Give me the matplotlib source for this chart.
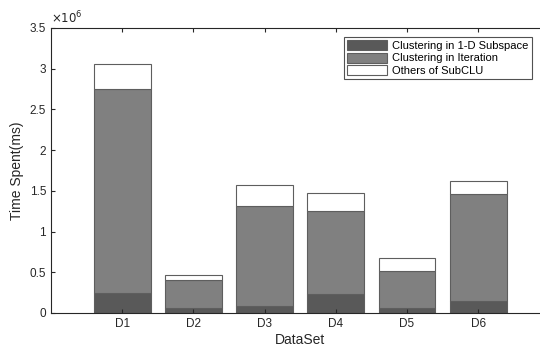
import numpy as np
import matplotlib
matplotlib.use("Agg")
import matplotlib.pyplot as plt

plt.rcParams["font.family"] = ["Liberation Sans", "DejaVu Sans"]

datasets = ["D1", "D2", "D3", "D4", "D5", "D6"]
subspace = [0.25e6, 0.06e6, 0.09e6, 0.23e6, 0.06e6, 0.15e6]
iteration_total = [2.75e6, 0.40e6, 1.31e6, 1.25e6, 0.52e6, 1.46e6]
overall = [3.06e6, 0.47e6, 1.57e6, 1.47e6, 0.68e6, 1.62e6]

sub = np.array(subspace)
itr = np.array(iteration_total) - sub
oth = np.array(overall) - np.array(iteration_total)

fig = plt.figure(figsize=(5.4, 3.48), dpi=100)
ax = fig.add_axes([0.0944, 0.1006, 0.923, 0.819])

x = np.arange(1, len(datasets) + 1)
w = 0.8
edge = "#5e5e5e"
ax.bar(x, sub, w, color="#595959", edgecolor=edge, linewidth=0.8, label="Clustering in 1-D Subspace")
ax.bar(x, itr, w, bottom=sub, color="#808080", edgecolor=edge, linewidth=0.8, label="Clustering in Iteration")
ax.bar(x, oth, w, bottom=sub + itr, color="white", edgecolor=edge, linewidth=0.8, label="Others of SubCLU")

ax.set_xlim(0, 7)
ax.set_ylim(0, 3.5e6)
ax.set_xticks(x)
ax.set_xticklabels(datasets)
ax.set_yticks(np.arange(0, 3.51e6, 0.5e6))
ax.set_yticklabels(["0", "0.5", "1", "1.5", "2", "2.5", "3", "3.5"])
ax.text(0.0, 1.005, r"$\times10^{6}$", transform=ax.transAxes, fontsize=8.5, color="#262626", va="bottom")

ax.tick_params(direction="in", top=True, right=True, labelsize=8.5, colors="#262626", length=3)
for s in ax.spines.values():
    s.set_color("#262626")
    s.set_linewidth(0.8)

ax.set_xlabel("DataSet", fontsize=10, color="#262626", labelpad=2)
ax.set_ylabel("Time Spent(ms)", fontsize=10, color="#262626", labelpad=4)

leg = ax.legend(loc="upper left", bbox_to_anchor=(0.588, 0.969), fontsize=8, frameon=True,
                fancybox=False, edgecolor="#262626", handlelength=3.6, handleheight=1.0,
                borderpad=0.3, labelspacing=0.15, handletextpad=0.4, borderaxespad=0)
leg.get_frame().set_linewidth(0.8)

fig.savefig("out.png", dpi=100)
